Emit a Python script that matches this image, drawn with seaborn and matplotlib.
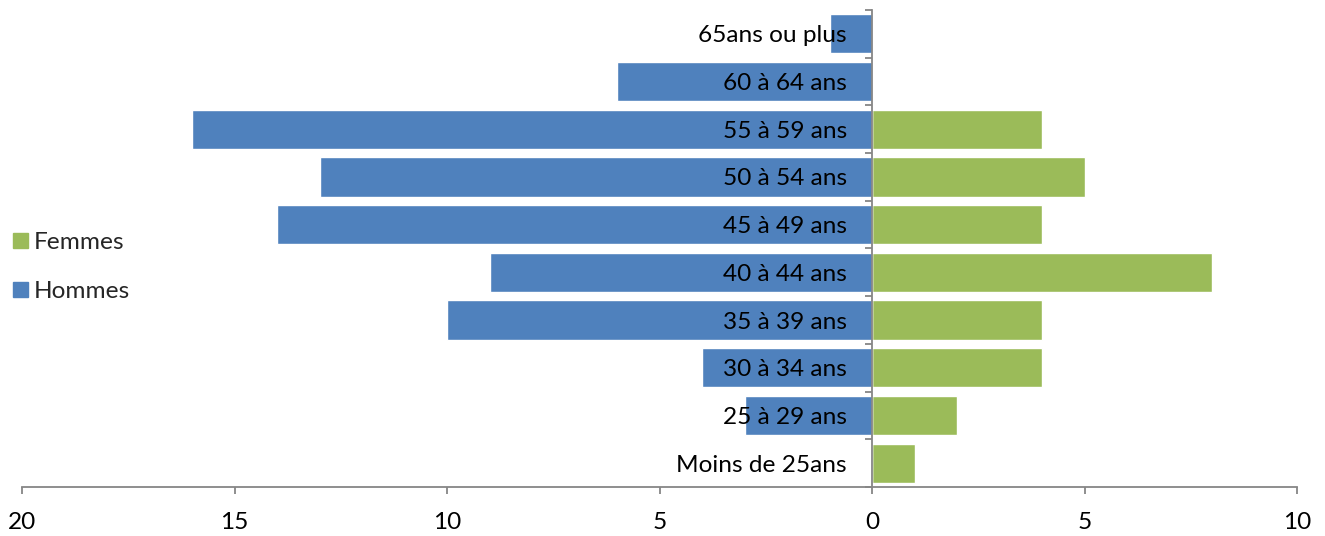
import pandas as pd
import numpy as np
import matplotlib.pyplot as plt
import seaborn as sns

sns.set_theme(style="white")
plt.rcParams['font.family'] = ['Lato', 'DejaVu Sans']

# ---- Data ----
ages = ["65ans ou plus", "60 à 64 ans", "55 à 59 ans", "50 à 54 ans", "45 à 49 ans",
        "40 à 44 ans", "35 à 39 ans", "30 à 34 ans", "25 à 29 ans", "Moins de 25ans"]
hommes = [1, 6, 16, 13, 14, 9, 10, 4, 3, 0]
femmes = [0, 0, 4, 5, 4, 8, 4, 4, 2, 1]
xticks = [-20, -15, -10, -5, 0, 5, 10]
xtick_labels = ["20", "15", "10", "5", "0", "5", "10"]

df = pd.concat([
    pd.DataFrame({"age": ages, "val": femmes, "sexe": "Femmes"}),
    pd.DataFrame({"age": ages, "val": [-h for h in hommes], "sexe": "Hommes"}),
])

colors = {"Femmes": "#9BBB59", "Hommes": "#4F81BD"}
grey = "#868686"
fs = 17.6

fig = plt.figure(figsize=(13.25, 5.36), dpi=100)
ax = fig.add_axes([22 / 1325, 1 - 487 / 536, (1297 - 22) / 1325, (487 - 10) / 536])

sns.barplot(data=df, x="val", y="age", hue="sexe", order=ages, hue_order=["Femmes", "Hommes"],
            palette=colors, dodge=False, width=0.82, orient="h", ax=ax, legend=False,
            saturation=1)

ax.set_xlim(-20, 10)
ax.set_ylim(len(ages) - 0.5, -0.5)
ax.set_xlabel("")
ax.set_ylabel("")
ax.set_xticks(xticks)
ax.set_xticklabels(xtick_labels, fontsize=fs)
ax.set_axisbelow(False)

for s in ["top", "right"]:
    ax.spines[s].set_visible(False)
ax.spines["left"].set_position(("data", 0))
for s in ["left", "bottom"]:
    ax.spines[s].set_color(grey)
    ax.spines[s].set_linewidth(1.3)

ax.tick_params(axis="x", which="major", bottom=True, direction="out", length=5, width=1.3,
               color=grey, pad=13, labelcolor="black")
ax.tick_params(axis="y", which="major", left=True, length=0, pad=18, labelsize=fs, labelcolor="black")
ax.set_yticks(np.arange(-0.5, len(ages), 1), minor=True)
ax.tick_params(axis="y", which="minor", left=True, direction="out", length=5, width=1.3, color=grey)
ax.grid(False)

handles = [plt.Rectangle((0, 0), 1, 1, color=colors[k]) for k in ["Femmes", "Hommes"]]
fig.legend(handles, ["Femmes", "Hommes"], loc="center left", bbox_to_anchor=(0.0, 1 - 267 / 536),
           frameon=False, fontsize=fs, handlelength=0.6, handleheight=0.6,
           handletextpad=0.25, labelspacing=1.15, borderaxespad=0.15)

fig.savefig("out.png", dpi=100)
